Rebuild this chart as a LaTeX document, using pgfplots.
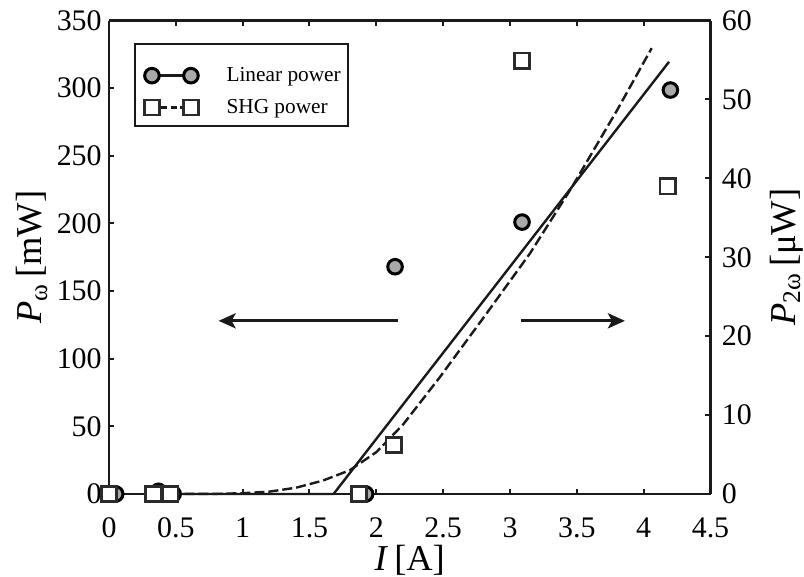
\documentclass[border=0pt]{standalone}
\usepackage{fontspec}
\setmainfont{Liberation Serif}
\usepackage{pgfplots}
\pgfplotsset{compat=1.18}
\usetikzlibrary{arrows.meta}

\definecolor{mkgray}{HTML}{A9A9A9}
\definecolor{ink}{HTML}{1A1A1A}
\definecolor{sqedge}{HTML}{2B2B2B}

\newcommand{\labfont}{\fontsize{18.3}{22}\selectfont}

\pgfplotsset{
  common/.style={
    scale only axis, width=300.75bp, height=236.75bp,
    xmin=0, xmax=4.5, ymin=0,
    axis line style={line width=1.3bp, ink},
    major tick length=2.6bp,
    every tick/.style={line width=1bp, ink},
    tick align=inside,
    clip=false,
    /pgf/number format/assume math mode=true,
    ticklabel style={font=\fontsize{15}{18}\selectfont, inner sep=0pt},
  },
}

\begin{document}
\begin{tikzpicture}
\begin{axis}[common,
  ymax=350,
  axis y line*=left,
  xtick={0,0.5,1,1.5,2,2.5,3,3.5,4,4.5},
  ytick={0,50,100,150,200,250,300,350},
  xticklabel style={anchor=base, yshift=-21.5bp},
  yticklabel style={anchor=east, xshift=-3.5bp},
  xlabel={\textit{I}\,[A]},
  ylabel={\textit{P}\textsubscript{ω}\,[mW]},
  every axis x label/.style={at={(axis description cs:0.5,0)}, anchor=base, yshift=-38bp, font=\labfont, inner sep=0pt},
  every axis y label/.style={at={(axis description cs:-0.1114,0.5)}, rotate=90, anchor=base, font=\labfont},
  legend image code/.code={\draw[mark repeat=1,mark phase=1,#1] plot coordinates {(0bp,0bp) (19.5bp,0bp)};},
  legend style={at={(axis description cs:0.0498,0.9277)}, anchor=north west,
    draw=none, fill=none, inner xsep=2.5bp, inner ysep=4bp, row sep=3.35bp, column sep=12bp,
    font=\fontsize{10.7}{12.8}\selectfont, cells={anchor=west}},
]
\addlegendimage{ink, line width=1.2bp, mark=*, mark size=3.65bp, mark options={fill=mkgray, draw=black, line width=1.5bp}}
\addlegendentry{Linear power}
\addlegendimage{ink, line width=1.2bp, dash pattern=on 3bp off 1.7bp, mark=square*, mark size=3.8bp, mark options={solid, fill=white, draw=sqedge, line width=1.2bp}}
\addlegendentry{SHG power}

\draw[ink, line width=1bp] (axis description cs:0.04323,0.95037) rectangle (axis description cs:0.39734,0.77719);

\addplot[ink, line width=1.2bp, forget plot] coordinates {(0.46,0) (1.68,0) (4.19,319.5)};
\addplot[only marks, mark=*, mark size=3.65bp, mark options={fill=mkgray, draw=black, line width=1.5bp}, forget plot]
  coordinates {(0.05,0) (0.37,2) (0.48,0) (1.92,0) (2.14,168) (3.09,201) (4.20,298.6)};

\draw[line width=1.6bp, ink, -{Stealth[length=8.5bp, width=7.5bp, inset=2bp]}] (axis cs:2.16,128) -- (axis cs:0.82,128);
\draw[line width=1.6bp, ink, -{Stealth[length=8.5bp, width=7.5bp, inset=2bp]}] (axis cs:3.08,128) -- (axis cs:3.86,128);
\end{axis}

\begin{axis}[common,
  ymax=60,
  axis y line*=right,
  axis x line=none,
  ytick={0,10,20,30,40,50,60},
  yticklabel style={anchor=west, xshift=5.5bp},
  ylabel={\textit{P}\textsubscript{2ω}\,[μW]},
  every axis y label/.style={at={(axis description cs:1.1405,0.5)}, rotate=90, anchor=base, font=\labfont},
]
\addplot[ink, line width=1.2bp, dash pattern=on 5bp off 2bp] coordinates {
  (0.46,0) (0.8,0.02) (1.0,0.1) (1.2,0.3) (1.4,0.8) (1.6,1.7) (1.8,3.0) (2.0,5.3)
  (2.2,8.8) (2.475,14.8) (2.8,22.3) (3.15,30.5) (3.46,38.8) (3.8,48.6) (4.06,56.5)};
\addplot[only marks, mark=square*, mark size=3.8bp, mark options={fill=white, draw=sqedge, line width=1.2bp}]
  coordinates {(0,0) (0.33,0) (0.46,0) (1.87,0) (2.13,6.2) (3.09,54.9) (4.18,39.0)};
\end{axis}
\pgfresetboundingbox
\path (-54.5bp,-41.5bp) rectangle (347.5bp,247bp);
\end{tikzpicture}
\end{document}
